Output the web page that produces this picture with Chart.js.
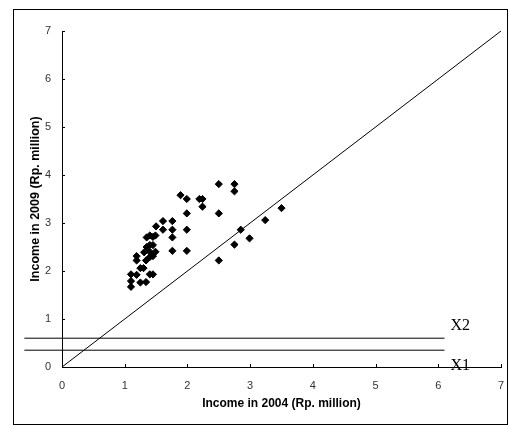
<!DOCTYPE html>
<html>
<head>
<meta charset="utf-8">
<script src="https://cdn.jsdelivr.net/npm/chart.js@4"></script>
<style>
  html, body { margin: 0; padding: 0; background: #fff; }
  #wrap { position: relative; width: 510px; height: 428px; }
</style>
</head>
<body>
<div id="wrap"><canvas id="chart" width="510" height="428"></canvas></div>
<script>
// Household income, Rp. million
var income2004 = [
    1.10, 1.10, 1.10, 1.19, 1.19, 1.19, 1.25, 1.25, 1.30, 1.31,
    1.34, 1.34, 1.35, 1.35, 1.40, 1.40, 1.40, 1.40, 1.40, 1.45,
    1.45, 1.45, 1.45, 1.49, 1.49, 1.50, 1.61, 1.61, 1.76, 1.76,
    1.76, 1.76, 1.89, 1.99, 1.99, 1.99, 1.99, 2.19, 2.24, 2.24,
    2.50, 2.50, 2.50, 2.75, 2.75, 2.75, 2.85, 2.99, 3.24, 3.50
];
var income2009 = [
    1.67, 1.79, 1.93, 1.92, 2.22, 2.31, 1.76, 2.06, 2.06, 2.39,
    1.77, 2.22, 2.50, 2.70, 1.93, 2.29, 2.40, 2.54, 2.74, 1.93,
    2.31, 2.54, 2.71, 2.40, 2.74, 2.93, 2.86, 3.04, 2.42, 2.70,
    2.86, 3.04, 3.58, 2.42, 2.86, 3.20, 3.50, 3.50, 3.50, 3.34,
    3.81, 3.20, 2.22, 3.81, 3.66, 2.55, 2.86, 2.68, 3.06, 3.31
];

// 45 degree line and the two poverty lines
var equalityX = [0, 7];
var povertyNames = ["X1", "X2"];
var povertyLevels = [0.35, 0.6];
var povertySpan = [-0.6, 6.1];

var axisTicks = [0, 1, 2, 3, 4, 5, 6, 7];

var points = income2004.map((x, i) => ({x: x, y: income2009[i]}));

var datasets = [{
    type: "scatter",
    data: points,
    pointStyle: "rectRot",
    pointRadius: 3.6,
    pointHoverRadius: 3.6,
    backgroundColor: "#000",
    borderColor: "#000",
    borderWidth: 1,
    order: 0,
}, {
    type: "line",
    data: equalityX.map(v => ({x: v, y: v})),
    borderColor: "#000",
    borderWidth: 1,
    pointRadius: 0,
    order: 1,
}];
povertyLevels.forEach(level => {
    datasets.push({
        type: "line",
        data: povertySpan.map(v => ({x: v, y: level})),
        borderColor: "#000",
        borderWidth: 1,
        pointRadius: 0,
        clip: false,
        order: 1,
    });
});

// frame, inward tick marks and X1/X2 labels
var decorations = {
    id: "decorations",
    beforeDraw(chart) {
        let ctx = chart.ctx;
        ctx.save();
        ctx.fillStyle = "#fff";
        ctx.fillRect(0, 0, chart.width, chart.height);
        ctx.strokeStyle = "#000";
        ctx.lineWidth = 1;
        ctx.strokeRect(13.5, 9.5, 494, 415);
        ctx.restore();
    },
    afterDraw(chart) {
        let ctx = chart.ctx;
        let xs = chart.scales.x, ys = chart.scales.y;
        let area = chart.chartArea;
        ctx.save();
        ctx.strokeStyle = "#000";
        ctx.lineWidth = 1;
        ctx.beginPath();
        axisTicks.forEach(t => {
            let px = Math.round(xs.getPixelForValue(t)) + 0.5;
            ctx.moveTo(px, area.bottom);
            ctx.lineTo(px, area.bottom - 3);
            let py = Math.round(ys.getPixelForValue(t)) + 0.5;
            ctx.moveTo(area.left, py);
            ctx.lineTo(area.left + 3, py);
        });
        ctx.stroke();

        ctx.fillStyle = "#000";
        ctx.font = "16px 'Liberation Serif', 'Times New Roman', serif";
        ctx.textAlign = "left";
        let lx = xs.getPixelForValue(povertySpan[1]) + 6;
        povertyNames.forEach((name, i) => {
            let py = ys.getPixelForValue(povertyLevels[i]);
            // upper label sits above its line, lower one below
            if (i === povertyNames.length - 1) {
                ctx.textBaseline = "bottom";
                ctx.fillText(name, lx, py - 4);
            } else {
                ctx.textBaseline = "top";
                ctx.fillText(name, lx, py + 8);
            }
        });
        ctx.restore();
    }
};

// fixed axis sizes so the plot area lands where the original has it
function noPadding(scale) {
    scale.paddingLeft = 0;
    scale.paddingRight = 0;
    scale.paddingTop = 0;
    scale.paddingBottom = 0;
}

var tickFont = {family: "'Liberation Sans', Arial, sans-serif", size: 11};
var titleFont = {family: "'Liberation Sans', Arial, sans-serif", size: 12, weight: "bold"};

new Chart(document.getElementById("chart").getContext("2d"), {
    data: {datasets: datasets},
    options: {
        responsive: false,
        animation: false,
        events: [],
        layout: {padding: {top: 31, right: 9, left: 0, bottom: 0}},
        plugins: {
            legend: {display: false},
            tooltip: {enabled: false},
        },
        scales: {
            x: {
                type: "linear",
                min: 0,
                max: 7,
                afterBuildTicks: scale => { scale.ticks = axisTicks.map(v => ({value: v})); },
                afterFit: scale => { scale.height = 61; noPadding(scale); },
                grid: {display: false, drawTicks: false},
                border: {display: true, color: "#000", width: 1},
                ticks: {color: "#333", font: tickFont, padding: 12},
                title: {
                    display: true,
                    text: "Income in 2004 (Rp. million)",
                    color: "#000",
                    font: titleFont,
                    padding: {top: 0, bottom: 17},
                },
            },
            y: {
                type: "linear",
                min: 0,
                max: 7,
                afterBuildTicks: scale => { scale.ticks = axisTicks.map(v => ({value: v})); },
                afterFit: scale => { scale.width = 62; noPadding(scale); },
                grid: {display: false, drawTicks: false},
                border: {display: true, color: "#000", width: 1},
                ticks: {color: "#333", font: tickFont, padding: 11},
                title: {
                    display: true,
                    text: "Income in 2009 (Rp. million)",
                    color: "#000",
                    font: {family: titleFont.family, size: 12.5, weight: "bold"},
                    padding: {top: 28, bottom: 0},
                },
            },
        },
    },
    plugins: [decorations],
});
</script>
</body>
</html>
